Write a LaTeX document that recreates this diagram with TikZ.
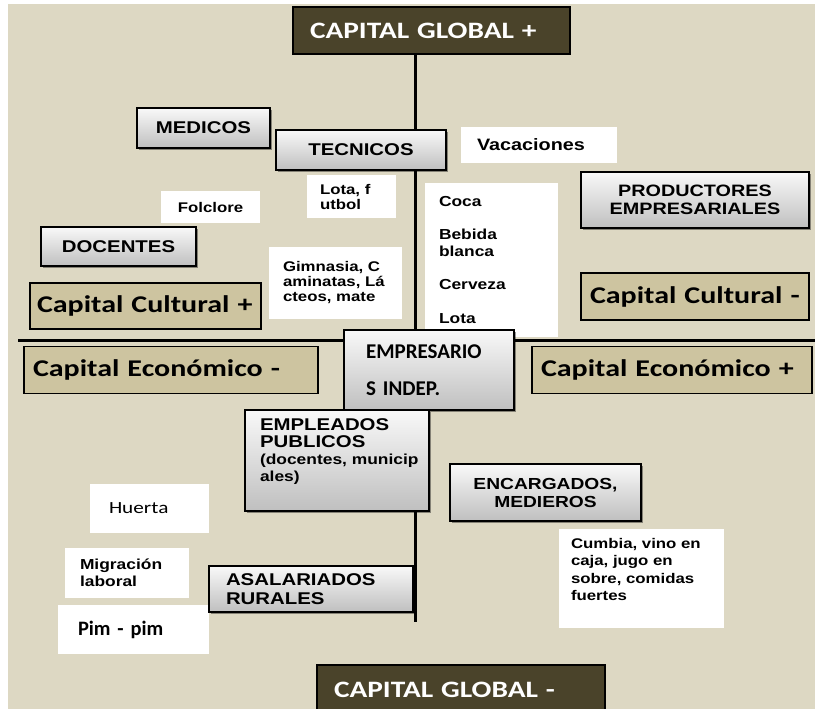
\documentclass[tikz,border=0pt]{standalone}
\usepackage{fontspec}
\setmainfont[FakeStretch=1.2]{Liberation Sans}
\newfontfamily\calibri[FakeStretch=1.25]{Carlito}
\newfontfamily\calibrialto{Carlito}
\usetikzlibrary{shadows}
\definecolor{fondo}{RGB}{221,216,195}
\definecolor{oscuro}{RGB}{74,67,42}
\definecolor{arena}{RGB}{205,196,160}

\begin{document}
\begin{tikzpicture}[x=1pt, y=-1pt, global/.style={draw=black, fill=oscuro, line width=1.5pt, text=white, inner xsep=17pt, inner ysep=0pt, align=left, font=\calibri\bfseries\fontsize{23.5}{26}\selectfont}, capital/.style={draw=black, fill=arena, line width=1.5pt, inner xsep=9pt, inner ysep=0pt, align=left, font=\calibri\bfseries\fontsize{24}{28}\selectfont}, grupo/.style={draw=black, top color=gray!5, bottom color=gray!50, line width=1.5pt, inner sep=0pt, drop shadow={shadow xshift=2pt, shadow yshift=-2pt, fill=black, opacity=0.4}, font=\bfseries\fontsize{17}{19}\selectfont}, nota/.style={fill=white, inner sep=0pt, align=left, font=\bfseries\fontsize{14}{15}\selectfont}, eje/.style={line width=3pt, black}]
        \useasboundingbox (0,0) rectangle (815,709);
        \fill[white] (0,0) rectangle (815,709);
        \fill[fondo] (8,4) rectangle (815,709);
        % axes
        \node[global, text width=243pt, minimum height=47pt] (globmas) at (431.5,30.5) {CAPITAL GLOBAL +};
        \coordinate (abajo) at (415,622);
        \coordinate (izq) at (18,340);
        \coordinate (der) at (815,340);
        \draw[eje] (globmas.south -| abajo) -- (abajo);
        \draw[eje] (izq) -- (der);
        % notes
        \node[nota, minimum width=156pt, minimum height=36pt, text width=124pt, font=\bfseries\fontsize{16.5}{18}\selectfont] (vacaciones) at (539,145) {Vacaciones};
        \node[nota, minimum width=99pt, minimum height=32pt, align=center] (folclore) at (210.5,207) {Folclore};
        \node[nota, minimum width=89pt, minimum height=43pt, text width=63pt] (futbol) at (351.5,196.5) {Lota, f\\utbol};
        \node[nota, minimum width=133pt, minimum height=154pt, text width=105pt, font=\bfseries\fontsize{14.5}{16.5}\selectfont] (bebidas) at (491.5,260) {Coca\\[17pt]Bebida\\blanca\\[17pt]Cerveza\\[17pt]Lota};
        \node[nota, minimum width=133pt, minimum height=72pt, text width=105pt] (gimnasia) at (335.5,283) {Gimnasia, C\\aminatas, Lá\\cteos, mate};
        \node[nota, minimum width=119pt, minimum height=49pt, text width=81pt, font=\calibri\fontsize{17}{19}\selectfont] (huerta) at (149.5,508.5) {Huerta};
        \node[nota, minimum width=165pt, minimum height=99pt] (cumbia) at (641.5,578.5) {\parbox[c][81pt][t]{141pt}{\fontsize{14}{17.5}\selectfont Cumbia, vino en\\caja, jugo en\\sobre, comidas\\fuertes}};
        \node[nota, minimum width=124pt, minimum height=50pt, text width=94pt, font=\bfseries\fontsize{14.5}{17}\selectfont] (migracion) at (127,573) {Migración\\laboral};
        \node[nota, minimum width=151pt, minimum height=49pt, text width=111pt, font=\calibrialto\bfseries\fontsize{20.5}{22}\selectfont] (pim) at (133.5,629.5) {Pim - pim};
        % capitals
        \node[capital, inner xsep=7pt, text width=217pt, minimum height=46pt] (culturalmas) at (145.5,306) {Capital Cultural +};
        \node[capital, text width=210pt, minimum height=47pt] (culturalmenos) at (695,296.5) {Capital Cultural -};
        \node[capital, text width=276pt, minimum height=47pt] (economicomenos) at (171,370) {Capital Económico -};
        \node[capital, text width=262pt, minimum height=47pt] (economicomas) at (672,370) {Capital Económico +};
        % groups
        \node[grupo, minimum width=133pt, minimum height=40pt] (medicos) at (203.5,128) {MEDICOS};
        \node[grupo, minimum width=170pt, minimum height=40pt] (tecnicos) at (361,150) {TECNICOS};
        \node[grupo, minimum width=228pt, minimum height=56pt, align=center, font=\bfseries\fontsize{16.5}{18}\selectfont] (productores) at (695,200) {PRODUCTORES\\EMPRESARIALES};
        \node[grupo, minimum width=155pt, minimum height=39pt] (docentes) at (118.5,246.5) {DOCENTES};
        \node[grupo, minimum width=170pt, minimum height=80pt, align=left, text width=126pt, font=\calibrialto\bfseries\fontsize{21}{37}\selectfont] (empresarios) at (429,370) {EMPRESARIO\\S INDEP.};
        \node[grupo, minimum width=184pt, minimum height=101pt] (empleados) at (337,460.5) {\parbox[c][83pt][t]{154pt}{\fontsize{17}{17}\selectfont EMPLEADOS\\PUBLICOS\\\fontsize{14.5}{17}\selectfont\mbox{(docentes, municip}\\ales)}};
        \node[grupo, minimum width=191pt, minimum height=57pt, align=center, font=\bfseries\fontsize{16}{18}\selectfont] (encargados) at (545.5,492.5) {ENCARGADOS,\\MEDIEROS};
        \node[grupo, minimum width=204pt, minimum height=46pt, align=left, text width=170pt] (asalariados) at (311,589) {ASALARIADOS\\RURALES};
        \node[global, text width=254pt, minimum height=50pt] (globmenos) at (461,690) {CAPITAL GLOBAL -};
    \end{tikzpicture}
\end{document}
